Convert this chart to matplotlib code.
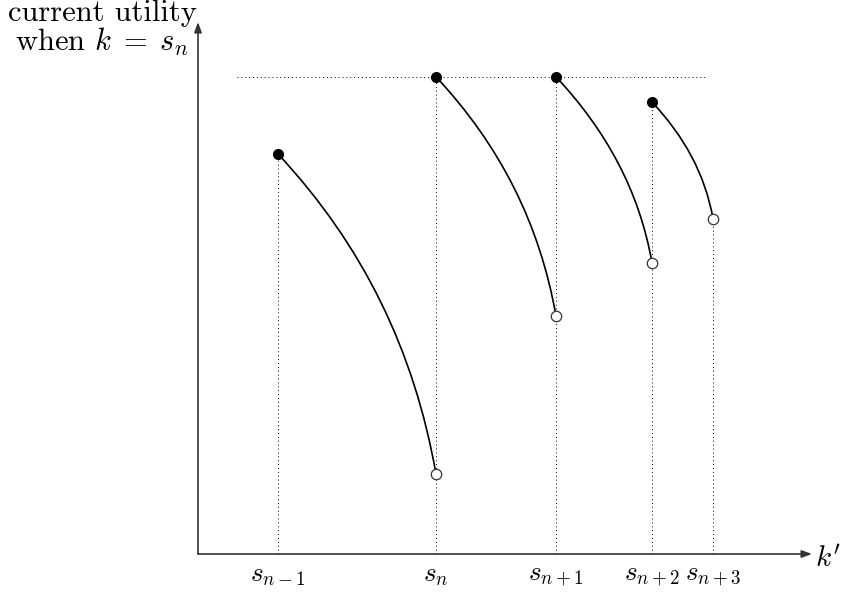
import numpy as np
import matplotlib
matplotlib.use("Agg")
import matplotlib.pyplot as plt
from matplotlib.path import Path
from matplotlib.patches import PathPatch

plt.rcParams["mathtext.fontset"] = "cm"
plt.rcParams["font.family"] = "cmr10"
plt.rcParams["axes.unicode_minus"] = False

# positions on the k' axis
tick_labels = [r"$s_{n-1}$", r"$s_n$", r"$s_{n+1}$", r"$s_{n+2}$", r"$s_{n+3}$"]
s_pos = [2.0, 5.95, 8.95, 11.35, 12.875]

# each branch: starts (filled dot) at s_i, ends (open dot) at s_{i+1}
start_y = [10.0, 11.93, 11.93, 11.3]
end_y = [2.0, 5.95, 7.28, 8.38]

top_level = 11.93
top_line_x = [0.98, 12.7]


def branch(ax, p0, p3, out_deg=-47, in_deg=100, loose=0.35):
    # tikz style "to[out=..,in=..]" curve
    p0 = np.array(p0)
    p3 = np.array(p3)
    d = loose * np.hypot(*(p3 - p0))
    a = np.radians(out_deg)
    b = np.radians(in_deg)
    p1 = p0 + d * np.array([np.cos(a), np.sin(a)])
    p2 = p3 + d * np.array([np.cos(b), np.sin(b)])
    path = Path([p0, p1, p2, p3], [Path.MOVETO, Path.CURVE4, Path.CURVE4, Path.CURVE4])
    ax.add_patch(PathPatch(path, fill=False, lw=1.2, color="black", zorder=3))


fig = plt.figure(figsize=(8.42, 5.94), dpi=100)
ax = fig.add_axes([0, 0, 1, 1])
ax.set_xlim(-198 / 40, 644 / 40)
ax.set_ylim(-40 / 40, 554 / 40)
ax.axis("off")

dots = dict(color="black", lw=0.7, ls=(0, (1, 3)))

# axes with arrows
ax.annotate("", xy=(15.35, 0), xytext=(0, 0),
            arrowprops=dict(arrowstyle="-|>,head_length=0.6,head_width=0.22", color="#333333", lw=1.2, shrinkA=0, shrinkB=0))
ax.annotate("", xy=(0, 13.3), xytext=(0, 0),
            arrowprops=dict(arrowstyle="-|>,head_length=0.6,head_width=0.22", color="#333333", lw=1.2, shrinkA=0, shrinkB=0))

# horizontal dotted line at the top level
ax.plot(top_line_x, [top_level, top_level], **dots)

# vertical dotted lines
vert_top = start_y + [end_y[-1]]
for x, yt in zip(s_pos, vert_top):
    ax.plot([x, x], [0, yt], **dots)

for i in range(4):
    branch(ax, (s_pos[i], start_y[i]), (s_pos[i + 1], end_y[i]))
    ax.plot(s_pos[i], start_y[i], "o", color="black", ms=7, zorder=4)
    ax.plot(s_pos[i + 1], end_y[i], "o", mfc="white", mec="#333333", mew=0.9, ms=7.5, zorder=4)

for x, lab in zip(s_pos, tick_labels):
    ax.text(x, -0.25, lab, ha="center", va="top", fontsize=19.5)

ax.text(15.42, -0.12, r"$k'$", ha="left", va="center", fontsize=21)
ax.text(-2.4, 13.12, "current utility\nwhen $k\\;=\\;s_n$", ha="center", va="center",
        fontsize=22, linespacing=0.95)

fig.savefig("out.png", dpi=100)
